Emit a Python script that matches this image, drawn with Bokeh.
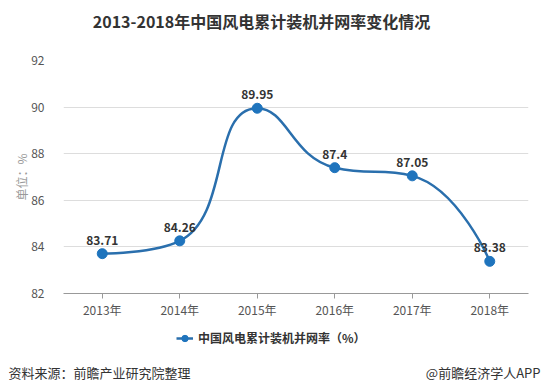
import math
from bokeh.plotting import figure
from bokeh.layouts import column
from bokeh.models import Range1d, FixedTicker, Label, Legend, LegendItem, ColumnDataSource, LabelSet
from bokeh.core.properties import value
from bokeh.embed import file_html
from bokeh.resources import INLINE

# ---- data ----
years = ["2013年", "2014年", "2015年", "2016年", "2017年", "2018年"]
rates = [83.71, 84.26, 89.95, 87.4, 87.05, 83.38]
rate_labels = ["83.71", "84.26", "89.95", "87.4", "87.05", "83.38"]
y_ticks = [82, 84, 86, 88, 90, 92]
title_text = "2013-2018年中国风电累计装机并网率变化情况"
series_name = "中国风电累计装机并网率（%）"
y_unit = "单位：%"
source_text = "资料来源：前瞻产业研究院整理"
brand_text = "@前瞻经济学人APP"

# ---- layout ----
W = 543
H_TOP, H_MAIN, H_BOT = 48, 275, 67
L, R, T, B = 63, 15, 12, 30
FW, FH = W - L - R, H_MAIN - T - B
FONT = "Noto Sans CJK SC"
BLUE_LINE = "#2a6fad"
BLUE_DOT = "#1f74bd"
DARK = "#333333"

# ---- title strip ----
top = figure(width=W, height=H_TOP, output_backend="svg", toolbar_location=None,
             x_axis_type=None, y_axis_type=None, min_border=0,
             x_range=Range1d(0, W), y_range=Range1d(0, H_TOP))
top.frame_align = False
top.outline_line_color = None
top.add_layout(Label(x=261, y=H_TOP - 20, x_units="screen", y_units="screen",
                     text=title_text, text_align="center", text_baseline="middle",
                     text_font=FONT, text_font_size="16px", text_font_style="bold",
                     text_color=DARK))

# ---- main chart ----
xs = list(range(len(years)))
p = figure(width=W, height=H_MAIN, output_backend="svg", toolbar_location=None,
           x_range=Range1d(-0.5, len(years) - 0.5), y_range=Range1d(82, 92),
           min_border_left=L, min_border_right=R, min_border_top=T, min_border_bottom=B)
p.frame_align = False
p.outline_line_color = None

# smooth curve: ECharts-5-style bezier smoothing (computed in pixel space)
kx = FW / len(years)
ky = FH / 10.0
smooth = 0.5
P = [(x * kx, y * ky) for x, y in zip(xs, rates)]
n = len(P)
seg_c0, seg_c1 = [], []
cp0 = P[0]
for i in range(1, n):
    x, y = P[i]
    px_, py_ = P[i - 1]
    if i == n - 1:
        cp1 = (x, y)
        nxt_cp0 = (x, y)
    else:
        nx, ny = P[i + 1]
        vx, vy = nx - px_, ny - py_
        lp = math.hypot(x - px_, y - py_)
        ln = math.hypot(nx - x, ny - y)
        ratio = ln / (ln + lp)
        c0x = x + vx * smooth * ratio
        c0y = y + vy * smooth * ratio
        c0x = max(min(c0x, max(nx, x)), min(nx, x))
        c0y = max(min(c0y, max(ny, y)), min(ny, y))
        vx, vy = c0x - x, c0y - y
        c1x = x - vx * lp / ln
        c1y = y - vy * lp / ln
        c1x = max(min(c1x, max(px_, x)), min(px_, x))
        c1y = max(min(c1y, max(py_, y)), min(py_, y))
        vx, vy = x - c1x, y - c1y
        nxt_cp0 = (x + vx * ln / lp, y + vy * ln / lp)
        cp1 = (c1x, c1y)
    seg_c0.append(cp0)
    seg_c1.append(cp1)
    cp0 = nxt_cp0

p.bezier(x0=xs[:-1], y0=rates[:-1], x1=xs[1:], y1=rates[1:],
         cx0=[c[0] / kx for c in seg_c0], cy0=[c[1] / ky for c in seg_c0],
         cx1=[c[0] / kx for c in seg_c1], cy1=[c[1] / ky for c in seg_c1],
         line_color=BLUE_LINE, line_width=2.5)
p.scatter(xs, rates, size=10, fill_color=BLUE_DOT, line_color=BLUE_DOT)

src = ColumnDataSource(dict(x=xs, y=rates, t=rate_labels))
p.add_layout(LabelSet(x="x", y="y", text="t", source=src, y_offset=9,
                      text_align="center", text_baseline="bottom",
                      text_font=value(FONT), text_font_size=value("12px"),
                      text_font_style=value("bold"), text_color=value(DARK)))

p.xaxis.ticker = FixedTicker(ticks=xs)
p.xaxis.major_label_overrides = {i: y for i, y in enumerate(years)}
p.xaxis.axis_line_color = "#999999"
p.xaxis.major_tick_line_color = "#999999"
p.xaxis.major_tick_in = 0
p.xaxis.major_tick_out = 5
p.xaxis.minor_tick_line_color = None
p.xaxis.major_label_standoff = 2
p.xaxis.major_label_text_font = FONT
p.xaxis.major_label_text_font_size = "12px"
p.xaxis.major_label_text_color = "#555555"

p.yaxis.ticker = FixedTicker(ticks=y_ticks)
p.yaxis.axis_line_color = None
p.yaxis.major_tick_line_color = None
p.yaxis.minor_tick_line_color = None
p.yaxis.major_label_standoff = 13
p.yaxis.major_label_text_font = FONT
p.yaxis.major_label_text_font_size = "12px"
p.yaxis.major_label_text_color = "#555555"
p.yaxis.axis_label = y_unit
p.yaxis.axis_label_text_font = FONT
p.yaxis.axis_label_text_font_size = "12px"
p.yaxis.axis_label_text_font_style = "normal"
p.yaxis.axis_label_text_color = "#999999"
p.yaxis.axis_label_standoff = -2

p.xgrid.grid_line_color = None
p.ygrid.ticker = FixedTicker(ticks=y_ticks)
p.ygrid.grid_line_color = "#dddddd"

# ---- legend + footer strip ----
bot = figure(width=W, height=H_BOT, output_backend="svg", toolbar_location=None,
             x_axis_type=None, y_axis_type=None, min_border=0,
             x_range=Range1d(100, 101), y_range=Range1d(0, 1))
bot.frame_align = False
bot.outline_line_color = None
# legend proxies: same series, drawn outside this strip's visible range
lr = bot.line(x=xs, y=rates, line_color=BLUE_LINE, line_width=2.5)
sr = bot.scatter(x=xs, y=rates, size=9, fill_color=BLUE_DOT, line_color=BLUE_DOT)
leg = Legend(items=[LegendItem(label=series_name, renderers=[lr, sr])],
             location=(176, H_BOT - 15 - 8), orientation="horizontal",
             label_text_font=FONT, label_text_font_size="12px", label_text_font_style="bold",
             label_text_color=DARK, glyph_width=17, glyph_height=16, label_height=16,
             label_standoff=5, padding=0, margin=0, spacing=0,
             border_line_color=None, background_fill_alpha=0)
bot.add_layout(leg, "center")
bot.add_layout(Label(x=8, y=H_BOT - 49, x_units="screen", y_units="screen",
                     text=source_text, text_align="left", text_baseline="middle",
                     text_font=FONT, text_font_size="13px", text_color=DARK))
bot.add_layout(Label(x=540, y=H_BOT - 49, x_units="screen", y_units="screen",
                     text=brand_text, text_align="right", text_baseline="middle",
                     text_font=FONT, text_font_size="13px", text_color=DARK))

layout = column(top, p, bot, spacing=0)
open("out.html", "w").write(file_html(layout, INLINE))
